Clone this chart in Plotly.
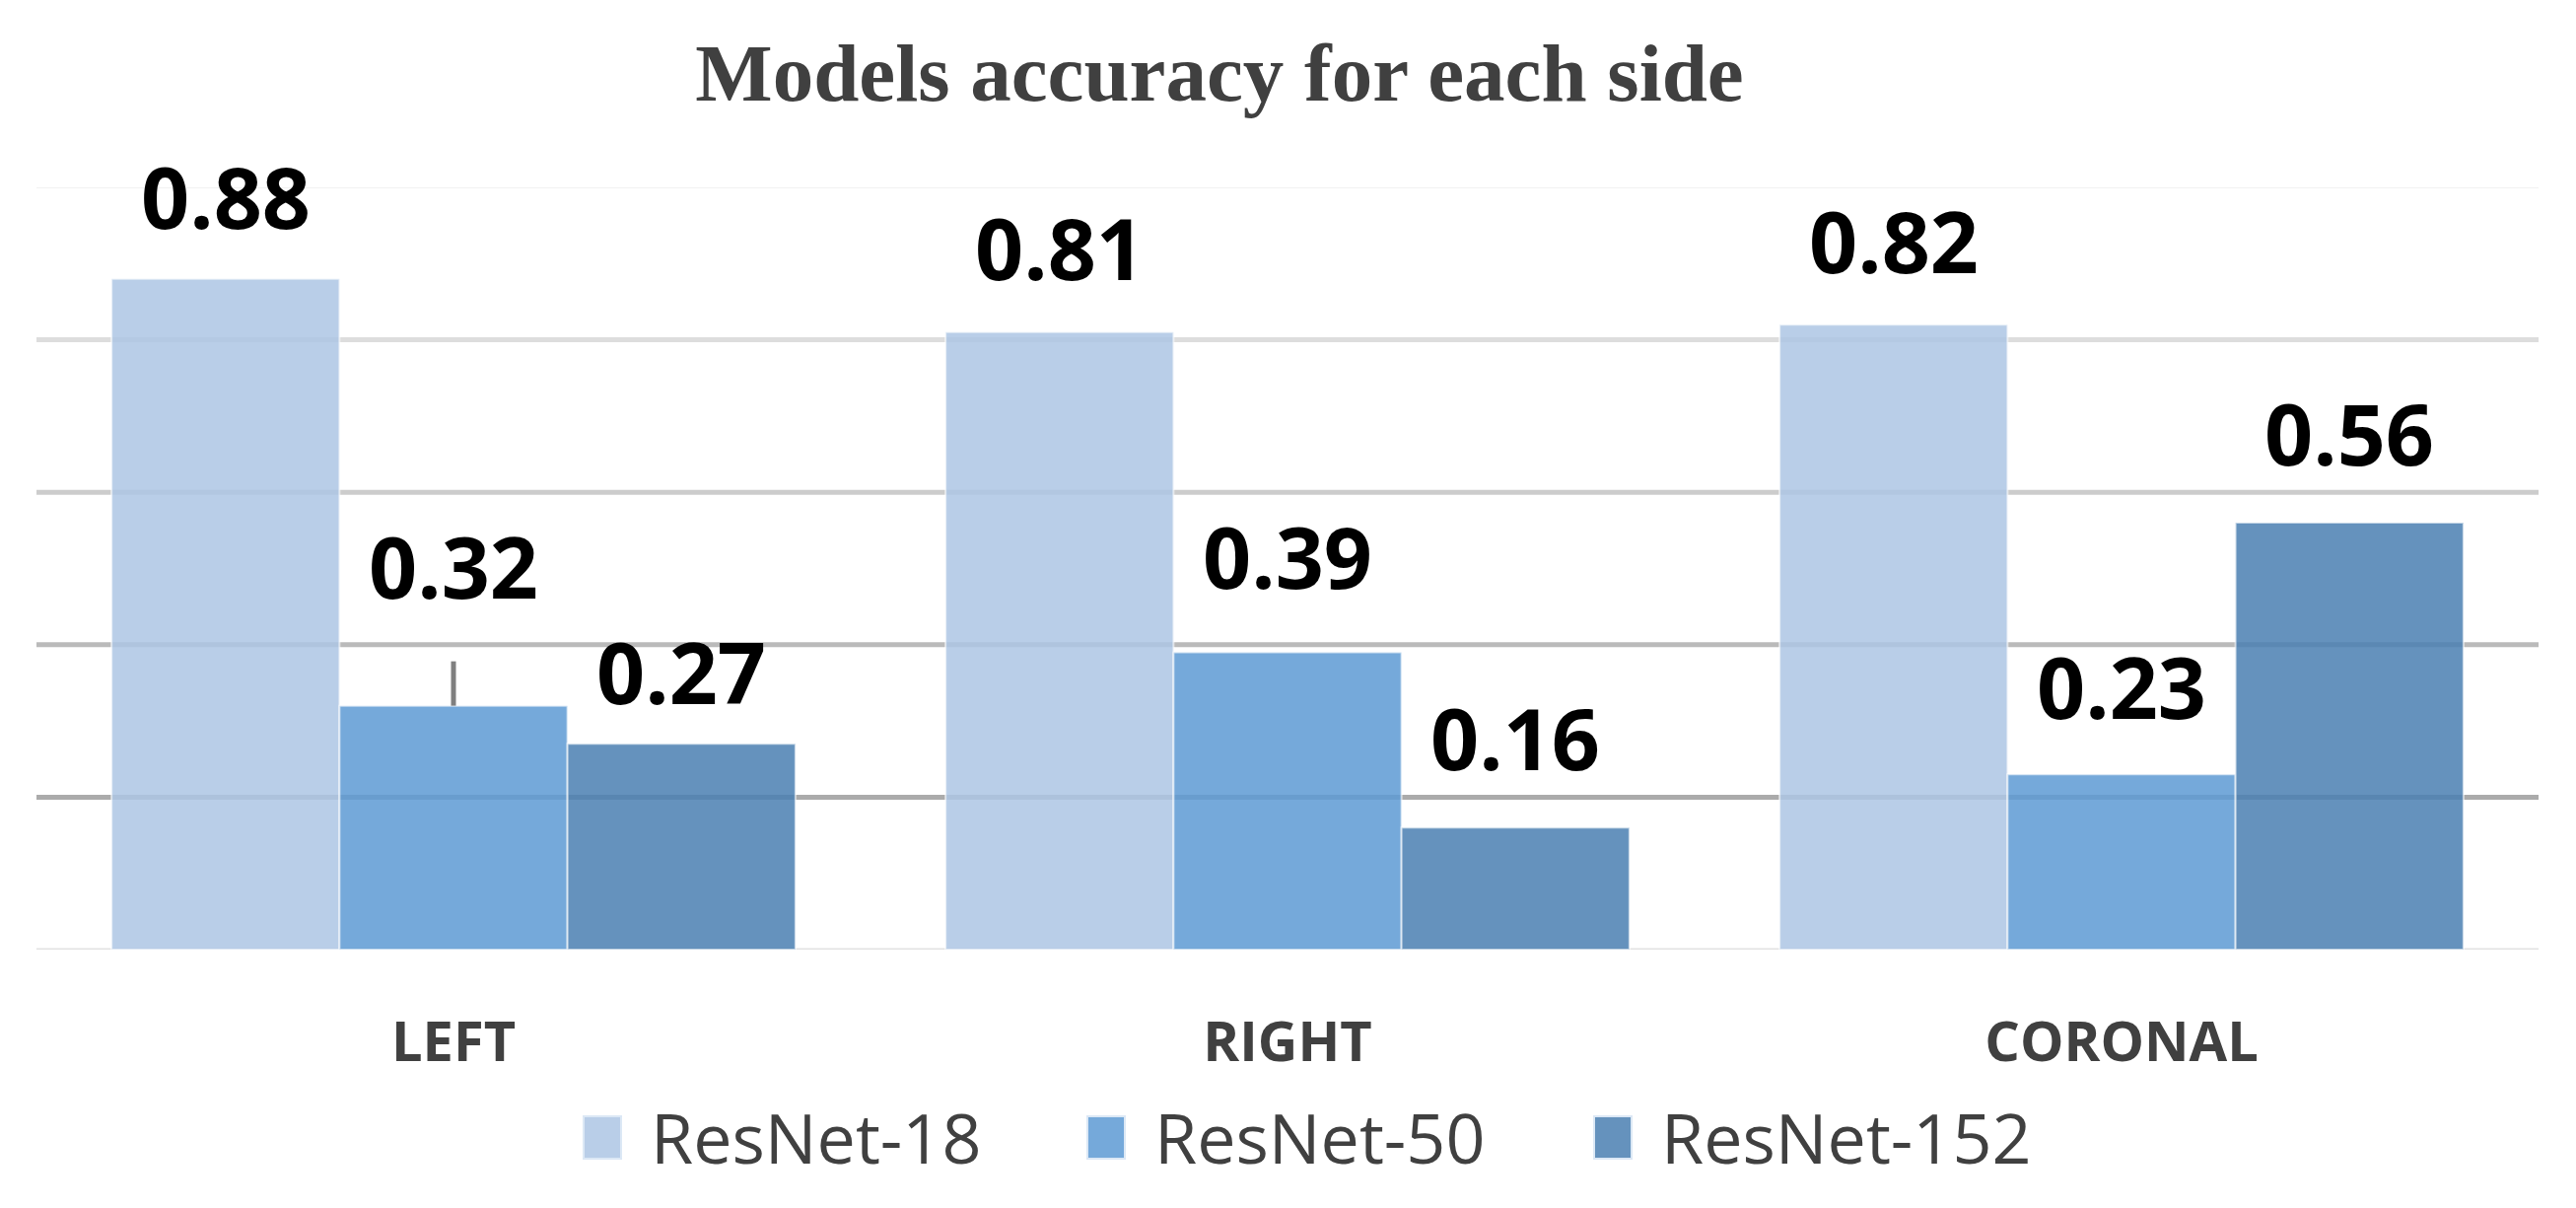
import plotly.graph_objects as go

# ---- data ----
categories = ["LEFT", "RIGHT", "CORONAL"]
series_names = ["ResNet-18", "ResNet-50", "ResNet-152"]
resnet18 = [0.88, 0.81, 0.82]
resnet50 = [0.32, 0.39, 0.23]
resnet152 = [0.27, 0.16, 0.56]
grid_values = [0.2, 0.4, 0.6, 0.8, 1.0]

# ---- styles ----
PAGE_W, PAGE_H = 2613, 1225
OFF = 8  # default browser body margin
W, H = PAGE_W - 2 * OFF, PAGE_H - 2 * OFF
# plot area in page pixels
PA_L, PA_R, PA_T, PA_B = 37, 2575, 190, 963
M_L, M_R, M_T, M_B = PA_L - OFF, W - (PA_R - OFF), PA_T - OFF, H - (PA_B - OFF)

bar_colors = ["rgba(173,197,228,0.85)", "rgba(93,154,211,0.85)", "rgba(74,127,177,0.85)"]
grid_colors = ["#ababab", "#bababa", "#cccccc", "#dddddd", "#f2f2f2"]
grid_widths = [5, 5, 5, 5, 2]
BARGAP = 0.18
label_font = dict(family="Open Sans", size=86, color="#000000")
# label offsets above bar tops (px), [series][category]
label_shift = [[84, 86, 86], [142, 98, 90], [74, 92, 92]]
leader = {(0, 1): 45}

series_values = [resnet18, resnet50, resnet152]
xs = list(range(len(categories)))
n = len(series_names)
bar_w = (1 - BARGAP) / n

fig = go.Figure()
for name, vals, col in zip(series_names, series_values, bar_colors):
    fig.add_trace(go.Bar(
        x=xs, y=vals, name=name,
        marker=dict(color=col, line=dict(color="rgba(255,255,255,0.6)", width=2)),
        showlegend=False,
    ))

shapes = []
shapes.append(dict(type="line", xref="paper", x0=0, x1=1, yref="y", y0=0, y1=0,
                   line=dict(color="#e2e2e2", width=3), layer="below"))
for v, c, w in zip(grid_values, grid_colors, grid_widths):
    shapes.append(dict(type="line", xref="paper", x0=0, x1=1, yref="y", y0=v, y1=v,
                       line=dict(color=c, width=w), layer="below"))

annotations = []
for j, vals in enumerate(series_values):
    off = (j - (n - 1) / 2) * bar_w
    for i, v in enumerate(vals):
        xc = xs[i] + off
        annotations.append(dict(
            x=xc, y=v, xref="x", yref="y", text=f"<b>{v:.2f}</b>",
            showarrow=False, yanchor="middle", xanchor="center",
            yshift=label_shift[j][i], font=label_font,
        ))
        if (i, j) in leader:
            shapes.append(dict(type="line", xref="x", x0=xc, x1=xc, yref="y",
                               ysizemode="pixel", yanchor=v, y0=0, y1=leader[(i, j)],
                               line=dict(color="#7f7f7f", width=5)))

# ---- manual legend (page pixel positions converted to paper coords) ----
pw = PA_R - PA_L
ph = PA_B - PA_T
def px_x(p):
    return (p - PA_L) / pw
def px_y(p):
    return (PA_B - p) / ph

legend_sym_x = [592, 1103, 1617]
sym_w, sym_top, sym_bot, text_gap, text_y = 38, 1132, 1175, 28, 1153
for name, col, sx in zip(series_names, bar_colors, legend_sym_x):
    shapes.append(dict(type="rect", xref="paper", yref="paper",
                       x0=px_x(sx), x1=px_x(sx + sym_w), y0=px_y(sym_bot), y1=px_y(sym_top),
                       fillcolor=col, line=dict(color="rgba(220,232,245,1)", width=2)))
    annotations.append(dict(x=px_x(sx + sym_w + text_gap), y=px_y(text_y), xref="paper", yref="paper",
                            text=name, showarrow=False, xanchor="left", yanchor="middle",
                            font=dict(family="Open Sans", size=70, color="#404040")))

fig.update_layout(
    width=W, height=H,
    margin=dict(l=M_L, r=M_R, t=M_T, b=M_B, pad=0),
    paper_bgcolor="white", plot_bgcolor="white",
    barmode="group", bargap=BARGAP, bargroupgap=0,
    title=dict(text="<b>Models accuracy for each side</b>", x=(1237 - OFF) / W, xref="container",
               xanchor="center", y=1 - (73 - OFF) / H, yref="container", yanchor="middle",
               font=dict(family="Liberation Serif", size=83, color="#404040")),
    xaxis=dict(range=[-0.5, len(categories) - 0.5], tickvals=xs, ticktext=categories,
               showgrid=False, zeroline=False, showline=False,
               ticks="outside", ticklen=45, tickcolor="rgba(0,0,0,0)",
               tickfont=dict(family="Open Sans", size=56, color="#404040", weight="bold")),
    yaxis=dict(range=[0, 1], visible=False, showgrid=False, zeroline=False),
    shapes=shapes, annotations=annotations,
)

fig.write_html("out.html")
